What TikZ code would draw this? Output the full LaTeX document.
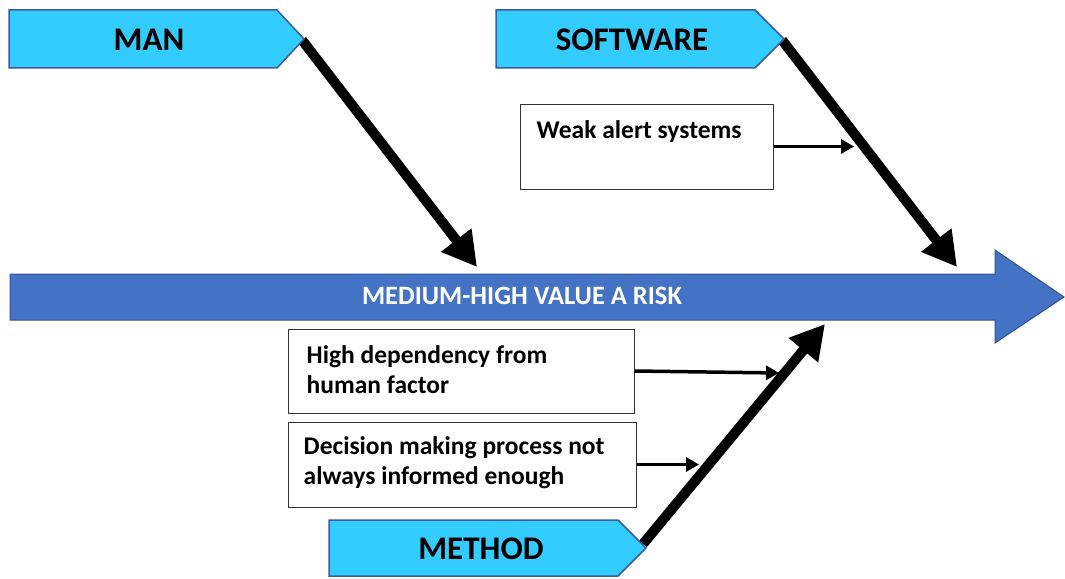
\documentclass[tikz,border=0pt]{standalone}
\usepackage{fontspec}
\setmainfont{Carlito}
\usetikzlibrary{arrows.meta,calc}
\definecolor{catfill}{HTML}{33CCFF}
\definecolor{catline}{HTML}{3B5BA5}
\definecolor{spinefill}{HTML}{4472C4}
\definecolor{spineline}{HTML}{2F5597}
\begin{document}
\begin{tikzpicture}[x=1pt,y=-1pt,
  category/.style={fill=catfill,draw=catline,line width=1.5pt,line join=miter},
  cattext/.style={font=\bfseries\fontsize{33}{36}\selectfont,inner sep=0pt},
  bone/.style={line width=10pt,-{Triangle[length=34pt,width=36pt]}},
  twig/.style={line width=3.5pt,-{Triangle[length=13pt,width=14pt]}},
  causebox/.style={draw=black!80,line width=1pt,inner sep=0pt},
  causetext/.style={font=\bfseries\fontsize{25.5}{30}\selectfont,align=left,anchor=north west,inner sep=0pt}
]
\useasboundingbox (0,0) rectangle (1065,578);

% spine of the fishbone
\draw[fill=spinefill,draw=spineline,line width=1pt,line join=miter]
  (10,274) -- (995,274) -- (995,250) -- (1064,297) -- (995,343) -- (995,320) -- (10,320) -- cycle;
\node[text=white,font=\bfseries\fontsize{26.5}{30}\selectfont,inner sep=0pt] (effect) at (522,296) {MEDIUM-HIGH VALUE A RISK};

% end points of the bones
\coordinate (manstart) at (302,40);
\coordinate (manend) at (477,267);
\coordinate (swstart) at (782,40);
\coordinate (swend) at (957,267);
\coordinate (mtstart) at (643,544);
\coordinate (mtend) at (825,324);

% bones
\draw[bone] (manstart) -- (manend);
\draw[bone] (swstart) -- (swend);
\draw[bone] (mtstart) -- (mtend);

% category heads
\draw[category] (9,10) -- (277,10) -- (304,39) -- (277,68) -- (9,68) -- cycle;
\node[cattext] (man) at (149,40) {MAN};
\draw[category] (496,10) -- (755,10) -- (784,39) -- (755,68) -- (496,68) -- cycle;
\node[cattext] (software) at (632,40) {SOFTWARE};
\draw[category] (329,520) -- (618,520) -- (646,548) -- (618,576) -- (329,576) -- cycle;
\node[cattext] (method) at (481,549) {METHOD};

% causes
\node[causebox,minimum width=253pt,minimum height=85pt] (weak) at (646.5,146.5) {};
\node[causetext] (weaktxt) at ($(weak.north west)+(17,17)$) {Weak alert systems};
\node[causebox,minimum width=346pt,minimum height=84pt] (human) at (461,371) {};
\node[causetext] (humantxt) at ($(human.north west)+(19,17)$) {High dependency from\\human factor};
\node[causebox,minimum width=348pt,minimum height=85pt] (decision) at (462,464.5) {};
\node[causetext] (decisiontxt) at ($(decision.north west)+(16,15)$) {Decision making process not\\always informed enough};

% cause arrows onto the bones
\coordinate (weakhit) at (854,146.5);
\coordinate (humanhit) at (779,373);
\coordinate (decisionhit) at (699,464.5);
\draw[twig] (weak.east) -- (weakhit);
\draw[twig] (human.east) -- (humanhit);
\draw[twig] (decision.east) -- (decisionhit);
\end{tikzpicture}
\end{document}
